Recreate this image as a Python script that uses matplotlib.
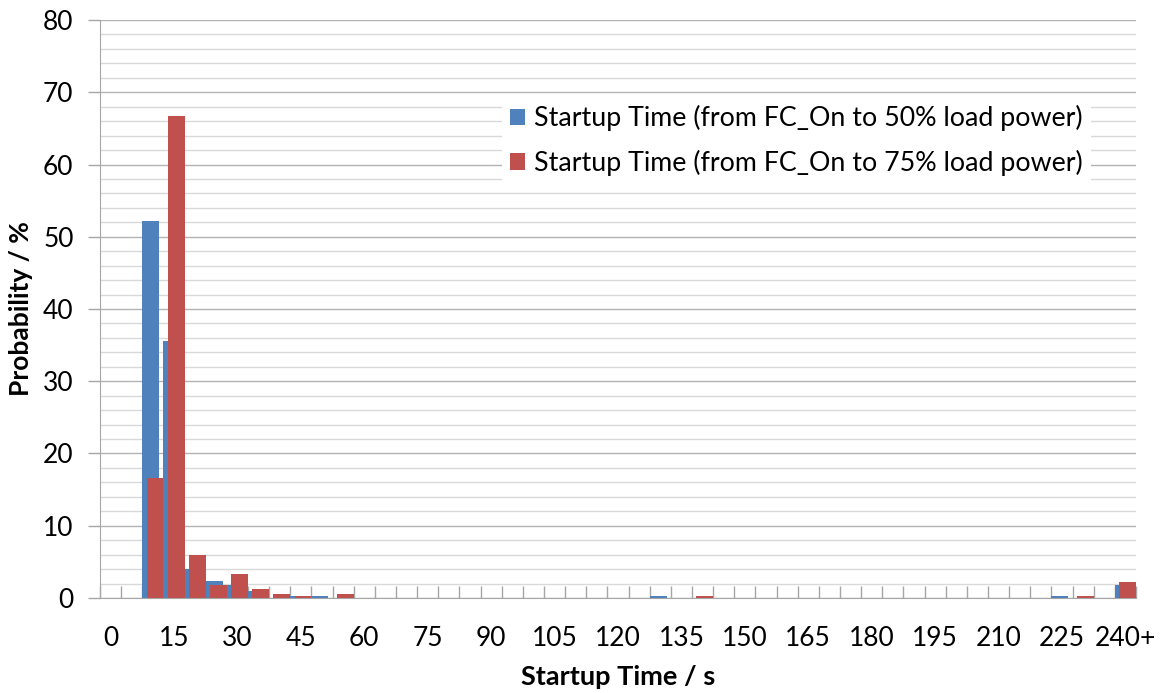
import numpy as np
import matplotlib.pyplot as plt

# categories: 0, 5, 10, ... 235, 240+ (seconds)
bins = [str(v) for v in range(0, 240, 5)] + ["240+"]
n = len(bins)

# probability in %, only non-zero bins listed
p50_vals = {"10": 52.2, "15": 35.6, "20": 4.0, "25": 2.4, "30": 1.8, "35": 0.9,
            "45": 0.3, "50": 0.3, "130": 0.3, "225": 0.3, "240+": 1.8}
p75_vals = {"10": 16.6, "15": 66.7, "20": 6.0, "25": 1.8, "30": 3.3, "35": 1.2,
            "40": 0.55, "45": 0.3, "55": 0.55, "140": 0.3, "230": 0.3, "240+": 2.2}

p50 = [p50_vals.get(b, 0) for b in bins]
p75 = [p75_vals.get(b, 0) for b in bins]

labels = ["Startup Time (from FC_On to 50% load power)",
          "Startup Time (from FC_On to 75% load power)"]

plt.rcParams['font.family'] = ['Lato', 'DejaVu Sans']

fig = plt.figure(figsize=(11.67, 6.93), dpi=100)
ax = fig.add_axes([0.0857, 0.1371, 0.8877, 0.834])

x = np.arange(n)
w = 0.8
ax.bar(x - 0.1, p50, width=w, color='#4F81BD', label=labels[0], zorder=3)
ax.bar(x + 0.1, p75, width=w, color='#C0504D', label=labels[1], zorder=4)

ax.set_xlim(-0.5, n - 0.5)
ax.set_ylim(0, 80)

# gridlines: major every 10, minor every 2
ax.set_yticks(np.arange(0, 81, 10))
ax.set_yticks(np.arange(0, 81, 2), minor=True)
ax.grid(axis='y', which='minor', color='#D9D9D9', lw=1.0, zorder=0)
ax.grid(axis='y', which='major', color='#B3B3B3', lw=1.0, zorder=1)
ax.tick_params(axis='y', which='minor', length=0)
ax.tick_params(axis='y', which='major', length=9, color='#A6A6A6', width=1,
               labelsize=19, pad=10)

# x: tick marks at category boundaries, labels every 3rd bin
ax.set_xticks(np.arange(-0.5, n, 1))
ax.set_xticklabels([])
ax.set_xticks(x[::3], minor=True)
ax.set_xticklabels(bins[::3], minor=True, fontsize=19)
ax.tick_params(axis='x', which='major', direction='in', length=9,
               color='#A6A6A6', width=1)
ax.tick_params(axis='x', which='minor', length=0, pad=20)

for s in ['top', 'right']:
    ax.spines[s].set_visible(False)
for s in ['left', 'bottom']:
    ax.spines[s].set_color('#A6A6A6')
    ax.spines[s].set_zorder(5)

ax.set_xlabel("Startup Time / s", fontsize=19.5, fontweight='bold', labelpad=10)
ax.set_ylabel("Probability / %", fontsize=19, fontweight='bold')
ax.yaxis.set_label_coords(-0.065, 0.5)

leg = ax.legend(loc='upper left', bbox_to_anchor=(0.375, 0.89), fontsize=19.3,
                frameon=True, fancybox=False, edgecolor='none', framealpha=1,
                handlelength=0.55, handleheight=0.55, handletextpad=0.35,
                borderpad=0.3, labelspacing=0.7)
leg.set_zorder(6)

fig.savefig("out.png", dpi=100)
